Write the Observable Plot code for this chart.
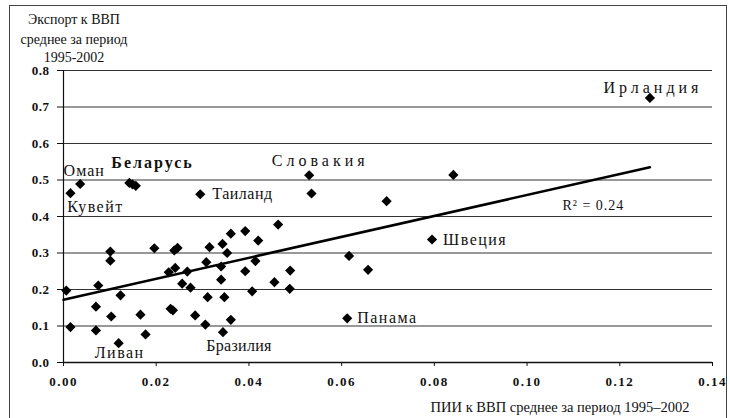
<!DOCTYPE html>
<html>
<head>
<meta charset="utf-8">
<script src="https://cdn.jsdelivr.net/npm/d3@7"></script>
<script src="https://cdn.jsdelivr.net/npm/@observablehq/plot@0.6"></script>
<style>
  html, body { margin: 0; padding: 0; background: #fff; }
  #wrap { position: relative; width: 730px; height: 418px; overflow: hidden; font-family: "Liberation Serif", "DejaVu Serif", serif; }
  #border { position: absolute; left: 9px; top: 5px; width: 718px; height: 430px; border: 1px solid #444; box-sizing: border-box; }
  .ytitle { position: absolute; left: 0; width: 148px; text-align: center; font-size: 14px; color: #111; line-height: 1; }
  .xtitle { position: absolute; left: 420px; width: 280px; top: 400px; text-align: center; font-size: 14.5px; color: #111; line-height: 1; }
  svg { position: absolute; left: 0; top: 0; }
</style>
</head>
<body>
<div id="wrap">
  <div id="border"></div>
  <div class="ytitle" style="top:13px">Экспорт к ВВП</div>
  <div class="ytitle" style="top:33px">среднее за период</div>
  <div class="ytitle" style="top:51px">1995-2002</div>
  <div class="xtitle">ПИИ к ВВП среднее за период 1995–2002</div>
</div>
<script>
// FDI to GDP (x) and export to GDP (y), averages 1995-2002
const fdi = [
  0.1265, 0.0036, 0.0015, 0.0142, 0.0149, 0.0156, 0.0295, 0.0530, 0.0535, 0.0697,
  0.0841, 0.0795, 0.0463, 0.0420, 0.0616, 0.0657, 0.0489, 0.0455, 0.0488, 0.0612,
  0.0392, 0.0361, 0.0343, 0.0315, 0.0353, 0.0308, 0.0414, 0.0340, 0.0392, 0.0340,
  0.0407, 0.0311, 0.0347, 0.0306, 0.0361, 0.0344, 0.0241, 0.0227, 0.0267, 0.0256,
  0.0274, 0.0231, 0.0236, 0.0284, 0.0101, 0.0101, 0.0196, 0.0239, 0.0246, 0.0006,
  0.0075, 0.0123, 0.0070, 0.0103, 0.0166, 0.0015, 0.0070, 0.0119, 0.0177
];
const exportShare = [
  0.725, 0.489, 0.464, 0.492, 0.488, 0.484, 0.461, 0.513, 0.463, 0.442,
  0.514, 0.337, 0.378, 0.334, 0.292, 0.254, 0.252, 0.220, 0.202, 0.121,
  0.360, 0.353, 0.325, 0.316, 0.300, 0.275, 0.278, 0.263, 0.250, 0.227,
  0.195, 0.179, 0.179, 0.104, 0.117, 0.083, 0.259, 0.247, 0.249, 0.216,
  0.205, 0.147, 0.143, 0.129, 0.304, 0.279, 0.313, 0.307, 0.314, 0.197,
  0.211, 0.184, 0.153, 0.126, 0.131, 0.097, 0.088, 0.053, 0.077
];
// named countries: label text and index of their point
const labelNames = ["Ирландия", "Оман", "Кувейт", "Беларусь", "Таиланд", "Словакия", "Швеция", "Панама", "Бразилия", "Ливан"];
const labelIndex = [0, 1, 2, 4, 6, 7, 11, 19, 35, 57];
// trend line end points
const trendX = [0, 0.1265];
const trendY = [0.172, 0.535];
const rText = "R² = 0.24";
const rX = 0.1143, rY = 0.430;
const xTicks = [0, 0.02, 0.04, 0.06, 0.08, 0.10, 0.12, 0.14];
const yTicks = [0, 0.1, 0.2, 0.3, 0.4, 0.5, 0.6, 0.7, 0.8];

const points = fdi.map((x, i) => ({x, y: exportShare[i]}));
const labels = labelNames.map((name, i) => ({name, x: fdi[labelIndex[i]], y: exportShare[labelIndex[i]]}));

const labelStyle = {
  "Ирландия": {dx: 3, dy: -10, textAnchor: "middle", ls: 4},
  "Оман": {dx: 4, dy: -13, textAnchor: "middle", ls: 1},
  "Кувейт": {dx: 25, dy: 14, textAnchor: "middle", ls: 1.5},
  "Беларусь": {dx: 20, dy: -22, textAnchor: "middle", fontWeight: "bold", ls: 2},
  "Таиланд": {dx: 12, dy: 0, textAnchor: "start", ls: 0.5},
  "Словакия": {dx: 11, dy: -14, textAnchor: "middle", ls: 4},
  "Швеция": {dx: 11, dy: 0, textAnchor: "start", ls: 1.5},
  "Панама": {dx: 10, dy: 0, textAnchor: "start", ls: 1.5},
  "Бразилия": {dx: 16, dy: 14, textAnchor: "middle", ls: 0.3},
  "Ливан": {dx: 1, dy: 10, textAnchor: "middle", ls: 1.5}
};

const font = '"Liberation Serif", "DejaVu Serif", serif';

const labelMarks = labels.map(d => {
  const s = labelStyle[d.name];
  return Plot.text([d], {x: "x", y: "y", text: "name", dx: s.dx, dy: s.dy, textAnchor: s.textAnchor,
    fontWeight: s.fontWeight || "normal", fontSize: 16, fill: "#111"});
});

const chart = Plot.plot({
  width: 730,
  height: 418,
  marginLeft: 63,
  marginRight: 18,
  marginTop: 70,
  marginBottom: 56,
  style: {fontFamily: font, fontSize: "13px", color: "#111", background: "transparent", overflow: "visible"},
  x: {domain: [0, 0.14], label: null},
  y: {domain: [0, 0.8], label: null},
  marks: [
    Plot.ruleY(yTicks.slice(1), {stroke: "#333", strokeWidth: 1}),
    Plot.axisY({ticks: yTicks, tickFormat: d3.format(".1f"), tickSize: 6, tickPadding: 8, fontSize: 13, fontWeight: "bold", label: null, stroke: "#111"}),
    Plot.axisX({ticks: xTicks, tickFormat: d3.format(".2f"), tickSize: 4, tickPadding: 10, fontSize: 13, fontWeight: "bold", label: null, stroke: "#111"}),
    Plot.ruleX([0], {stroke: "#111", strokeWidth: 1.2}),
    Plot.ruleY([0], {stroke: "#111", strokeWidth: 1.5}),
    Plot.line(trendX.map((x, i) => ({x, y: trendY[i]})), {x: "x", y: "y", stroke: "#000", strokeWidth: 2.6}),
    Plot.dot(points, {x: "x", y: "y", symbol: "diamond2", r: 4.6, fill: "#000", stroke: "none"}),
    ...labelMarks,
    Plot.text([{x: rX, y: rY, t: rText}], {x: "x", y: "y", text: "t", fontSize: 14, fill: "#111", textAnchor: "middle"})
  ]
});
chart.querySelectorAll("g[aria-label='x-axis tick label'] text").forEach(t => t.setAttribute("style", "letter-spacing:1.5px"));
chart.querySelectorAll("g[aria-label='y-axis tick label'] text").forEach(t => t.setAttribute("style", "letter-spacing:0.5px"));
chart.querySelectorAll("text").forEach(t => {
  const s = labelStyle[t.textContent];
  if (s) t.setAttribute("style", `letter-spacing:${s.ls}px`);
  if (t.textContent === rText) t.setAttribute("style", "letter-spacing:1px");
});
document.getElementById("wrap").appendChild(chart);
</script>
</body>
</html>
